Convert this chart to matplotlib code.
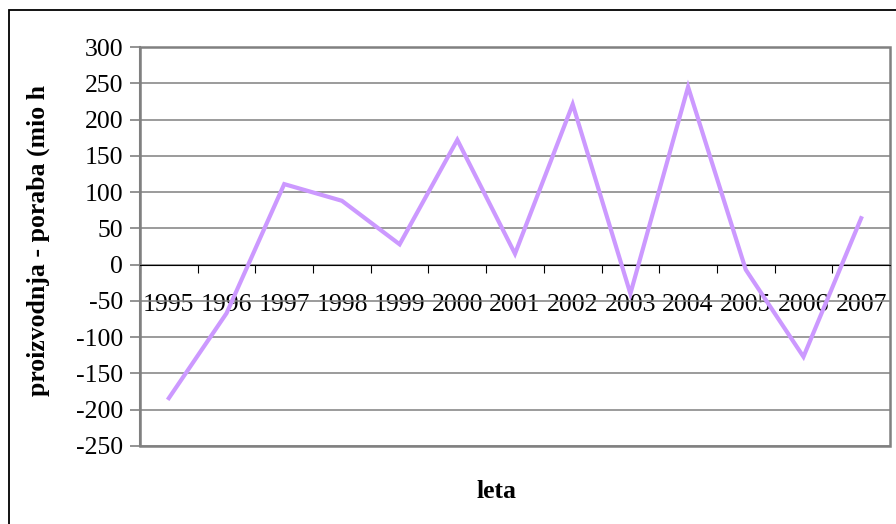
import matplotlib
matplotlib.use('Agg')
import matplotlib.pyplot as plt
from matplotlib.patches import Rectangle
import numpy as np

# leta in razlika proizvodnja - poraba
leta = ['1995', '1996', '1997', '1998', '1999', '2000', '2001',
        '2002', '2003', '2004', '2005', '2006', '2007']
razlika = [-184, -67, 111, 88, 28, 172, 15, 221, -40, 245, -7, -127, 64]
y_ticks = list(range(-250, 301, 50))

plt.rcParams['font.family'] = ['Liberation Serif', 'DejaVu Serif']

W, H = 896, 524
fig = plt.figure(figsize=(W / 100, H / 100), dpi=100)

# okvir okoli celotnega grafa
fig.patches.append(Rectangle((9 / W, -0.05), 1.0, (H - 10) / H + 0.05,
                             transform=fig.transFigure, fill=False,
                             edgecolor='black', linewidth=1.3))

ax = fig.add_axes([140 / W, (H - 446) / H, 750 / W, 399 / H])
x = np.arange(len(leta))
ax.plot(x, razlika, color='#CC99FF', linewidth=3.0, zorder=5,
        solid_joinstyle='miter')

ax.set_xlim(-0.5, len(leta) - 0.5)
ax.set_ylim(-250, 300)
ax.set_yticks(y_ticks)
ax.set_yticklabels([str(v) for v in y_ticks], fontsize=18.5)
ax.yaxis.grid(True, color='#808080', linewidth=1.1)
ax.set_axisbelow(True)

# x os gre skozi 0, oznake med kategorijami
ax.spines['bottom'].set_position(('data', 0))
ax.spines['bottom'].set_color('black')
ax.spines['bottom'].set_zorder(3)
ax.set_xticks(np.arange(len(leta) + 1) - 0.5)
ax.set_xticklabels([])
ax.set_xticks(x, minor=True)
ax.set_xticklabels(leta, minor=True, fontsize=18.5)
ax.tick_params(axis='x', which='major', direction='out', length=6,
               color='black')
ax.tick_params(axis='x', which='minor', length=0, pad=21)

ax.tick_params(axis='y', direction='out', length=7, color='#808080',
               width=1.2, pad=5)
for s in ['left', 'right', 'top']:
    ax.spines[s].set_color('#808080')
    ax.spines[s].set_linewidth(1.5)
ax.spines['top'].set_visible(False)
ax.spines['right'].set_visible(False)
ax.add_patch(Rectangle((0, 0), 1, 1, transform=ax.transAxes, fill=False,
                       edgecolor='#808080', linewidth=1.8, zorder=2,
                       clip_on=False))

fig.text(38 / W, 1 - 240 / H, 'proizvodnja - poraba (mio h', rotation=90,
         ha='center', va='center', fontsize=18.5, fontweight='bold')
fig.text(497 / W, 1 - 491 / H, 'leta', ha='center', va='center',
         fontsize=18.5, fontweight='bold')

fig.savefig('out.png', dpi=100)
